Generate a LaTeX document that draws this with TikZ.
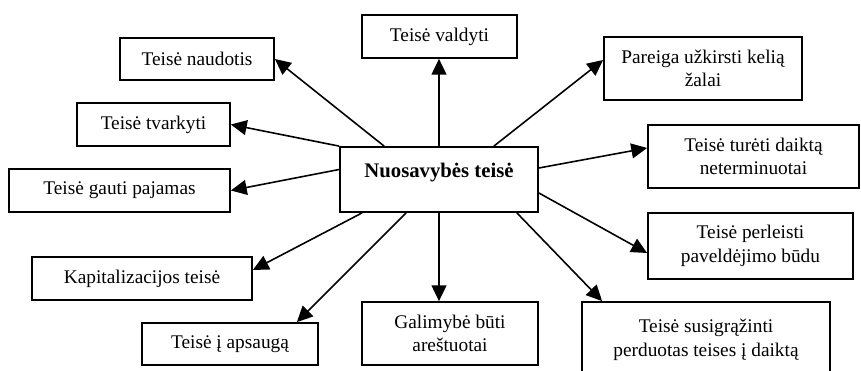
\documentclass[tikz,border=0pt]{standalone}
\usepackage{fontspec}
\setmainfont{Liberation Serif}
\usepackage{tikz}
\usetikzlibrary{arrows.meta}

\begin{document}
\begin{tikzpicture}[>={Triangle[length=9pt,width=8.5pt]},
    langas/.style={draw, line width=1pt, align=center, inner sep=0pt,
        font=\fontsize{11}{13.5}\selectfont},
    rodykle/.style={->, line width=0.9pt}]
    \useasboundingbox (0,0) rectangle (17.22,7.42);

    % Centrinis langelis
    \node[langas, minimum width=3.96cm, text height=0.62cm, text depth=0.68cm,
        font=\fontsize{11.8}{14}\selectfont\bfseries] (teise) at (8.78,3.83) {Nuosavybės teisė};

    % Langeliai aplink
    \node[langas, minimum width=3.08cm, minimum height=0.84cm] (naudotis) at (3.94,6.24) {Teisė naudotis};
    \node[langas, minimum width=3.10cm, minimum height=0.86cm] (valdyti) at (8.79,6.69) {Teisė valdyti};
    \node[langas, minimum width=3.96cm, minimum height=1.26cm] (pareiga) at (14.06,6.05) {Pareiga užkirsti kelią\\žalai};
    \node[langas, minimum width=4.22cm, minimum height=1.26cm] (tureti) at (15.07,4.29) {Teisė turėti daiktą\\neterminuotai};
    \node[langas, minimum width=3.06cm, minimum height=0.86cm] (tvarkyti) at (3.07,4.93) {Teisė tvarkyti};
    \node[langas, minimum width=4.42cm, minimum height=0.86cm] (pajamas) at (2.39,3.61) {Teisė gauti pajamas};
    \node[langas, minimum width=4.40cm, minimum height=0.86cm] (kapitalizacija) at (2.84,1.85) {Kapitalizacijos teisė};
    \node[langas, minimum width=3.52cm, minimum height=0.84cm] (apsauga) at (4.60,0.54) {Teisė į apsaugą};
    \node[langas, minimum width=3.52cm, minimum height=1.26cm] (galimybe) at (9.00,0.75) {Galimybė būti\\areštuotai};
    \node[langas, minimum width=4.10cm, minimum height=1.32cm] (perleisti) at (15.01,2.50) {Teisė perleisti\\paveldėjimo būdu};
    \node[langas, minimum width=4.96cm, minimum height=1.50cm] (susigrazinti) at (14.12,0.63) {Teisė susigrąžinti\\perduotas teises į daiktą};

    % Rodyklės
    \draw[rodykle] ([xshift=0.9cm]teise.north west) -- (naudotis.east);
    \draw[rodykle] (teise.north west) -- (tvarkyti.east);
    \draw[rodykle] ([yshift=0.2cm]teise.west) -- (pajamas.east);
    \draw[rodykle] ([xshift=0.46cm]teise.south west) -- ([yshift=0.17cm]kapitalizacija.east);
    \draw[rodykle] ([xshift=1.34cm]teise.south west) -- ([xshift=-0.44cm]apsauga.north east);
    \draw[rodykle] (teise.south) -- (teise.south |- galimybe.north);
    \draw[rodykle] ([xshift=-0.44cm]teise.south east) -- ([xshift=0.42cm]susigrazinti.north west);
    \draw[rodykle] ([yshift=-0.27cm]teise.east) -- ([yshift=-0.14cm]perleisti.west);
    \draw[rodykle] ([yshift=0.23cm]teise.east) -- ([yshift=0.17cm]tureti.west);
    \draw[rodykle] ([xshift=-0.9cm]teise.north east) -- ([yshift=0.17cm]pareiga.west);
    \draw[rodykle] (teise.north) -- (teise.north |- valdyti.south);
\end{tikzpicture}
\end{document}
